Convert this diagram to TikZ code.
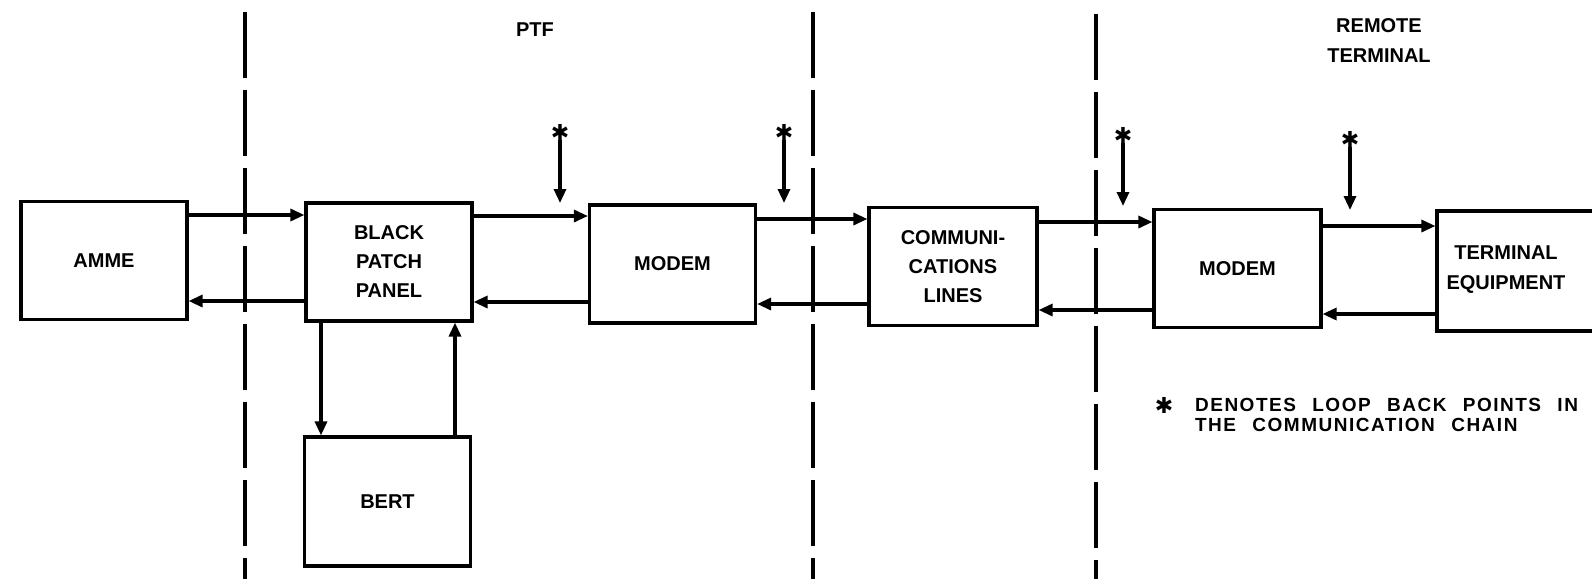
\documentclass[tikz,border=0pt]{standalone}
\usepackage{fontspec}
\setmainfont{Liberation Sans}
\newfontfamily\notefont[LetterSpace=8,WordSpace=2.4]{Liberation Sans}
\newfontfamily\markfont{DejaVu Sans}
\usepackage{tikz}
\usetikzlibrary{arrows.meta,positioning}

\begin{document}
\begin{tikzpicture}[x=0.5pt,y=-0.5pt,
  box/.style={draw,line width=1.6pt,align=center,inner sep=0pt,
              font=\fontsize{10}{14.5}\selectfont\bfseries,
              minimum width=83pt,minimum height=59pt},
  lbl/.style={align=center,font=\fontsize{10}{15}\selectfont\bfseries},
  note/.style={align=left,font=\notefont\fontsize{9.5}{10}\selectfont\bfseries},
  loopmark/.style={font=\markfont\fontsize{11}{11}\selectfont\bfseries,inner sep=0pt},
  arr/.style={-{Triangle[length=7pt,width=6pt]},line width=1.6pt},
  divider/.style={line width=1.6pt,dash pattern=on 33pt off 6pt}]
\useasboundingbox (0,0) rectangle (1592,579);
% site dividers
\draw[divider] (245,12) -- (245,579);
\draw[divider] (813,12) -- (813,579);
\draw[divider] (1096,14) -- (1096,579);
\node[lbl] (ptf) at (535,30) {PTF};
\node[lbl] (remote) at (1379,41) {REMOTE\\ TERMINAL};
% equipment chain
\node[box] (amme) at (104,260.5) {AMME};
\node[box] (bpp) at (389,262) {BLACK\\ PATCH\\ PANEL};
\node[box,minimum height=64.5pt] (bert) at (387.5,501.5) {BERT};
\node[box] (modemA) at (672.5,264) {MODEM};
\node[box,minimum width=84pt] (lines) at (953,266.5) {COMMUNI-\\ CATIONS\\ LINES};
\node[box,minimum width=83.5pt] (modemB) at (1237.5,268.5) {MODEM};
\node[box,minimum width=100pt,minimum height=60pt] (term) at (1537,271) {};
\node[lbl] (termtxt) at (1506,270) {TERMINAL\\ EQUIPMENT};
% data paths
\draw[arr] (amme.east |- 0,215) -- (bpp.west |- 0,215);
\draw[arr] (bpp.west |- 0,301) -- (amme.east |- 0,301);
\draw[arr] (bpp.east |- 0,216) -- (modemA.west |- 0,216);
\draw[arr] (modemA.west |- 0,302) -- (bpp.east |- 0,302);
\draw[arr] (modemA.east |- 0,219) -- (lines.west |- 0,219);
\draw[arr] (lines.west |- 0,304) -- (modemA.east |- 0,304);
\draw[arr] (lines.east |- 0,222) -- (modemB.west |- 0,222);
\draw[arr] (modemB.west |- 0,310) -- (lines.east |- 0,310);
\draw[arr] (modemB.east |- 0,226) -- (term.west |- 0,226);
\draw[arr] (term.west |- 0,314) -- (modemB.east |- 0,314);
\draw[arr] (bpp.south -| 321,0) -- (bert.north -| 321,0);
\draw[arr] (bert.north -| 455,0) -- (bpp.south -| 455,0);
% loop back points
\node[loopmark] (lbA) at (560,132) {✱};
\node[loopmark] (lbB) at (784,132) {✱};
\node[loopmark] (lbC) at (1123,135) {✱};
\node[loopmark] (lbD) at (1350,139) {✱};
\coordinate (tpA) at (560,203);
\coordinate (tpB) at (784,203);
\coordinate (tpC) at (1123,206);
\coordinate (tpD) at (1350,210);
\draw[arr] (lbA) -- (tpA);
\draw[arr] (lbB) -- (tpB);
\draw[arr] (lbC) -- (tpC);
\draw[arr] (lbD) -- (tpD);
% legend
\node[loopmark] (notemark) at (1164,405) {✱};
\node[note,anchor=west] (notetxt) at (1188,415) {DENOTES LOOP BACK POINTS IN\\ THE COMMUNICATION CHAIN};
\end{tikzpicture}
\end{document}
